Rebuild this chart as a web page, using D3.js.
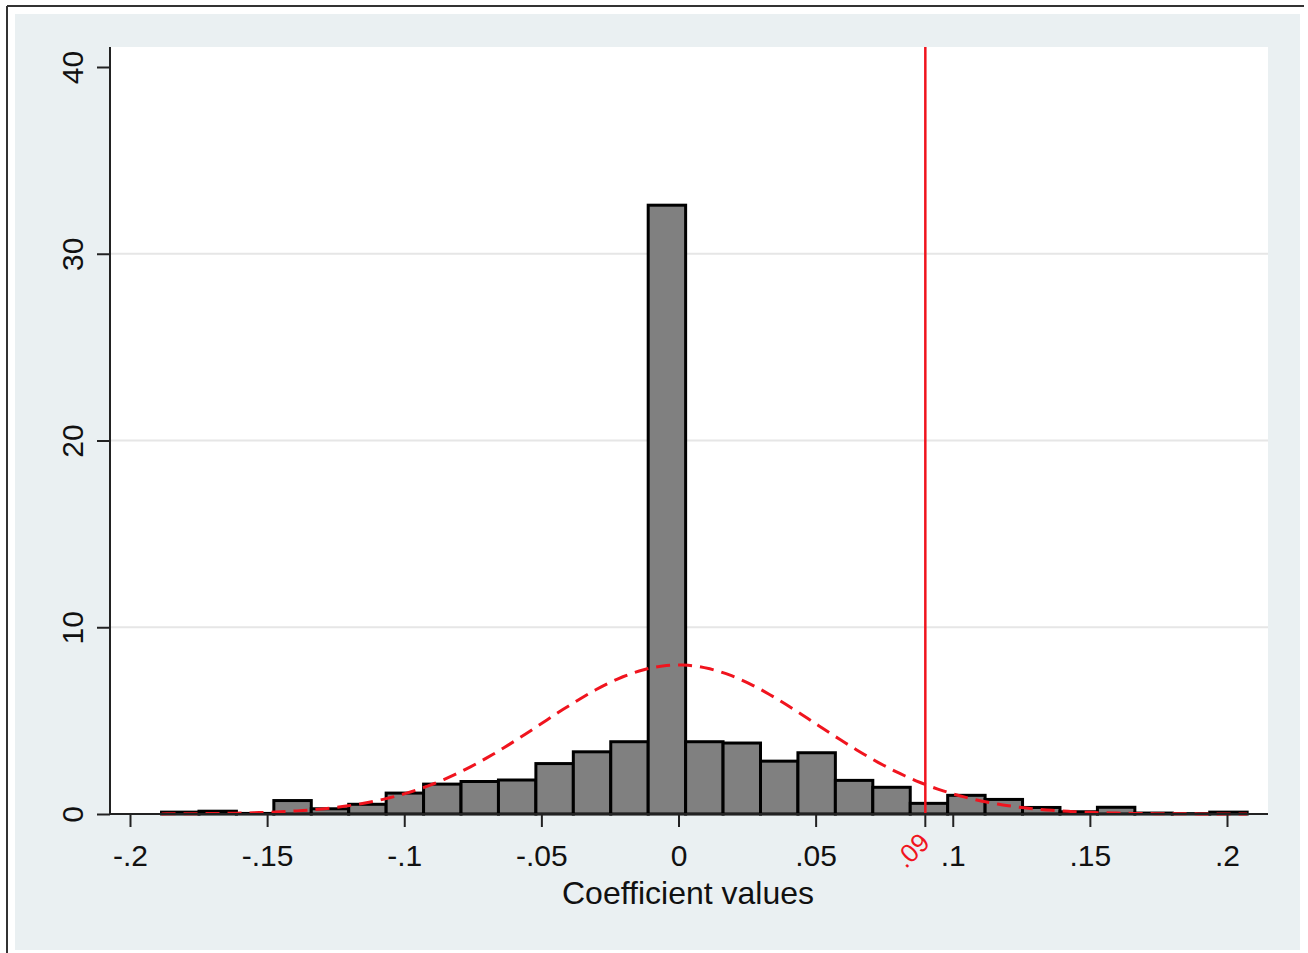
<!DOCTYPE html>
<html>
<head>
<meta charset="utf-8">
<script src="https://cdn.jsdelivr.net/npm/d3@7"></script>
<style>
  html, body { margin: 0; padding: 0; background: #fff; }
  svg { display: block; font-family: "Liberation Sans", Arial, sans-serif; }
</style>
</head>
<body>
<svg id="chart" width="1308" height="953"></svg>
<script>
// histogram bins (density)
var binStart = -0.1885;
var binWidth = 0.01365;
var densities = [0.1, 0.15, 0.03, 0.72, 0.28, 0.52, 1.12, 1.6, 1.74, 1.82,
                 2.7, 3.33, 3.87, 32.6, 3.87, 3.8, 2.83, 3.28, 1.8, 1.43,
                 0.57, 1.0, 0.78, 0.35, 0.12, 0.36, 0.05, 0.02, 0.1];
// overlaid normal density
var normMean = 0.0;
var normSd = 0.05;
// reference line
var refLine = 0.09;
var refLabel = ".09";
var xTicks = [-0.2, -0.15, -0.1, -0.05, 0, 0.05, 0.1, 0.15, 0.2];
var xTickLabels = ["-.2", "-.15", "-.1", "-.05", "0", ".05", ".1", ".15", ".2"];
var yTicks = [0, 10, 20, 30, 40];
var yGrid = [10, 20, 30];
var xTitle = "Coefficient values";

var svg = d3.select("#chart");

// outer frame and background
svg.append("line").attr("x1", 7).attr("x2", 1304).attr("y1", 6).attr("y2", 6)
  .attr("stroke", "#333").attr("stroke-width", 2);
svg.append("line").attr("x1", 7).attr("x2", 7).attr("y1", 6).attr("y2", 953)
  .attr("stroke", "#333").attr("stroke-width", 2);
svg.append("rect").attr("x", 15).attr("y", 14).attr("width", 1285).attr("height", 936)
  .attr("fill", "#eaf0f2");

var plot = { left: 110, right: 1268, top: 47, bottom: 814 };
svg.append("rect").attr("x", plot.left).attr("y", plot.top)
  .attr("width", plot.right - plot.left).attr("height", plot.bottom - plot.top)
  .attr("fill", "#fff");

var x = d3.scaleLinear().domain([-0.2, 0.2]).range([130, 1227]);
var y = d3.scaleLinear().domain([0, 40]).range([814, 67]);

// grid
svg.selectAll(".grid").data(yGrid).enter().append("line")
  .attr("class", "grid")
  .attr("x1", plot.left).attr("x2", plot.right)
  .attr("y1", d => y(d)).attr("y2", d => y(d))
  .attr("stroke", "#e6e6e6").attr("stroke-width", 2);

// bars
var bins = densities.map((d, i) => ({ x0: binStart + i * binWidth, x1: binStart + (i + 1) * binWidth, v: d }));
svg.selectAll(".bar").data(bins).enter().append("rect")
  .attr("class", "bar")
  .attr("x", d => x(d.x0))
  .attr("width", d => x(d.x1) - x(d.x0))
  .attr("y", d => y(d.v))
  .attr("height", d => y(0) - y(d.v))
  .attr("fill", "#808080")
  .attr("stroke", "#000")
  .attr("stroke-width", 3);

// normal density curve
var xs = d3.range(0, 201).map(i => binStart + (i / 200) * binWidth * densities.length);
var line = d3.line()
  .x(d => x(d))
  .y(d => y(Math.exp(-0.5 * Math.pow((d - normMean) / normSd, 2)) / (normSd * Math.sqrt(2 * Math.PI))));
svg.append("path").datum(xs)
  .attr("d", line)
  .attr("fill", "none")
  .attr("stroke", "#f0141e")
  .attr("stroke-width", 3)
  .attr("stroke-dasharray", "14,8");

// reference line
svg.append("line")
  .attr("x1", x(refLine)).attr("x2", x(refLine))
  .attr("y1", plot.top).attr("y2", plot.bottom)
  .attr("stroke", "#f0141e").attr("stroke-width", 2.5);

// axes
var xAxis = svg.append("g").attr("transform", "translate(0," + plot.bottom + ")")
  .call(d3.axisBottom(x).tickValues(xTicks).tickFormat((d, i) => xTickLabels[i]).tickSize(13).tickPadding(18));
xAxis.select(".domain").attr("d", "M" + plot.left + ",0H" + plot.right)
  .attr("stroke", "#222").attr("stroke-width", 2);
xAxis.selectAll(".tick line").attr("stroke", "#222").attr("stroke-width", 2);
xAxis.selectAll(".tick text").attr("font-size", 30).attr("fill", "#111")
  .attr("font-family", "Liberation Sans, Arial, sans-serif");

// red tick at the reference value
var refTick = svg.append("g").attr("transform", "translate(" + x(refLine) + "," + plot.bottom + ")");
refTick.append("line").attr("y2", 13).attr("stroke", "#222").attr("stroke-width", 2);
refTick.append("text")
  .attr("transform", "translate(6,30) rotate(-45)")
  .attr("text-anchor", "end")
  .attr("font-size", 26)
  .attr("fill", "#f0141e")
  .text(refLabel);

var yAxis = svg.append("g").attr("transform", "translate(" + plot.left + ",0)")
  .call(d3.axisLeft(y).tickValues(yTicks).tickFormat(d3.format("d")).tickSize(13).tickPadding(0));
yAxis.select(".domain").attr("d", "M0," + plot.top + "V" + plot.bottom)
  .attr("stroke", "#222").attr("stroke-width", 2);
yAxis.selectAll(".tick line").attr("stroke", "#222").attr("stroke-width", 2);
yAxis.selectAll(".tick text")
  .attr("x", null).attr("dy", null)
  .attr("transform", "translate(-27,0) rotate(-90)")
  .attr("text-anchor", "middle")
  .attr("font-size", 30).attr("fill", "#111")
  .attr("font-family", "Liberation Sans, Arial, sans-serif");

// axis title
svg.append("text")
  .attr("x", 688).attr("y", 904)
  .attr("text-anchor", "middle")
  .attr("font-size", 32)
  .attr("fill", "#111")
  .text(xTitle);
</script>
</body>
</html>
